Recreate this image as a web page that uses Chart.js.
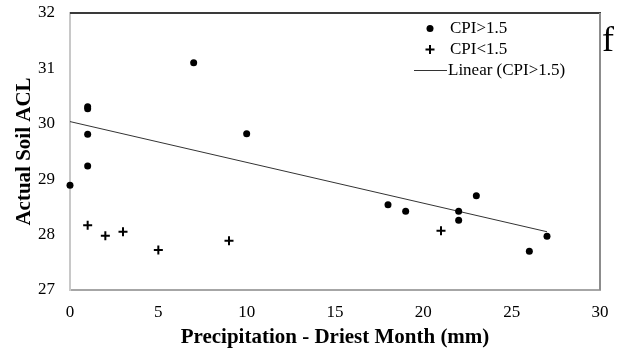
<!DOCTYPE html>
<html>
<head>
<meta charset="utf-8">
<script src="https://cdn.jsdelivr.net/npm/chart.js@4.4.0/dist/chart.umd.min.js"></script>
<style>
  html, body { margin: 0; padding: 0; background: #fff; }
</style>
</head>
<body>
<canvas id="grafico" width="626" height="353"></canvas>
<script>
// CPI > 1.5 (puntos)
const precipAlto = [0, 1, 1, 1, 1, 7, 10, 18, 19, 22, 22, 23, 26, 27];
const aclAlto = [28.89, 30.31, 30.27, 29.81, 29.24, 31.10, 29.82, 28.54, 28.42, 28.42, 28.26, 28.70, 27.70, 27.97];
// CPI < 1.5 (cruces)
const precipBajo = [1, 2, 3, 5, 9, 21];
const aclBajo = [28.17, 27.98, 28.05, 27.72, 27.89, 28.07];

const ticksX = [0, 5, 10, 15, 20, 25, 30];
const ticksY = [27, 28, 29, 30, 31, 32];
const etiquetas = ['CPI>1.5', 'CPI<1.5', 'Linear (CPI>1.5)'];

const fuente = "'Liberation Serif', 'Times New Roman', serif";

// Regresion lineal de la serie CPI>1.5
function tendencia(xs, ys) {
    const n = xs.length;
    const mx = xs.reduce((a, b) => a + b, 0) / n;
    const my = ys.reduce((a, b) => a + b, 0) / n;
    let sxy = 0, sxx = 0;
    xs.forEach((x, i) => {
        sxy += (x - mx) * (ys[i] - my);
        sxx += (x - mx) * (x - mx);
    });
    const m = sxy / sxx;
    const b = my - m * mx;
    const x0 = Math.min(...xs), x1 = Math.max(...xs);
    return [{ x: x0, y: m * x0 + b }, { x: x1, y: m * x1 + b }];
}

const puntos = (xs, ys) => xs.map((x, i) => ({ x: x, y: ys[i] }));

// Borde superior/derecho, leyenda y letra del panel
const extras = {
    id: 'extras',
    afterDraw(chart) {
        const ctx = chart.ctx;
        const a = chart.chartArea;
        ctx.save();
        ctx.lineWidth = 2;
        ctx.strokeStyle = '#3a3a3a';
        ctx.beginPath();
        ctx.moveTo(a.left, a.top);
        ctx.lineTo(a.right + 1, a.top);
        ctx.stroke();
        ctx.strokeStyle = '#8c8c8c';
        ctx.beginPath();
        ctx.moveTo(a.right, a.top);
        ctx.lineTo(a.right, a.bottom);
        ctx.stroke();

        // leyenda
        ctx.fillStyle = '#000';
        ctx.strokeStyle = '#000';
        ctx.font = '17px ' + fuente;
        ctx.textBaseline = 'middle';
        ctx.textAlign = 'left';
        const mx = 430;
        const filas = [28.5, 49.5, 70.5];
        ctx.beginPath();
        ctx.arc(mx, filas[0], 3.5, 0, Math.PI * 2);
        ctx.fill();
        ctx.fillText(etiquetas[0], 450, filas[0]);
        ctx.lineWidth = 2;
        ctx.beginPath();
        ctx.moveTo(mx - 4.5, filas[1]);
        ctx.lineTo(mx + 4.5, filas[1]);
        ctx.moveTo(mx, filas[1] - 4.5);
        ctx.lineTo(mx, filas[1] + 4.5);
        ctx.stroke();
        ctx.fillText(etiquetas[1], 450, filas[1]);
        ctx.lineWidth = 1;
        ctx.strokeStyle = '#333';
        ctx.beginPath();
        ctx.moveTo(414, filas[2]);
        ctx.lineTo(447, filas[2]);
        ctx.stroke();
        ctx.fillText(etiquetas[2], 448, filas[2]);

        ctx.font = '36px ' + fuente;
        ctx.textBaseline = 'alphabetic';
        ctx.fillText('f', 602, 51);
        ctx.restore();
    }
};

new Chart(document.getElementById('grafico'), {
    type: 'scatter',
    data: {
        datasets: [
            {
                label: etiquetas[0],
                data: puntos(precipAlto, aclAlto),
                pointStyle: 'circle',
                pointRadius: 3.5,
                backgroundColor: '#000',
                borderColor: '#000',
                borderWidth: 0,
                clip: false
            },
            {
                label: etiquetas[1],
                data: puntos(precipBajo, aclBajo),
                pointStyle: 'cross',
                pointRadius: 4.5,
                borderColor: '#000',
                borderWidth: 2,
                clip: false
            },
            {
                label: etiquetas[2],
                data: tendencia(precipAlto, aclAlto),
                showLine: true,
                pointRadius: 0,
                borderColor: '#333',
                borderWidth: 1
            }
        ]
    },
    options: {
        responsive: false,
        animation: false,
        layout: { padding: { top: 13, right: 26, left: 0, bottom: 0 } },
        plugins: {
            legend: { display: false },
            tooltip: { enabled: false }
        },
        scales: {
            x: {
                type: 'linear',
                min: 0,
                max: 30,
                afterBuildTicks: s => { s.ticks = ticksX.map(v => ({ value: v })); },
                afterFit: s => {
                    s.height = 63;
                    s.paddingLeft = 0;
                    s.paddingRight = 0;
                },
                grid: { display: false, drawTicks: false },
                border: { display: true, color: '#a6a6a6', width: 2 },
                ticks: { color: '#000', padding: 12, font: { family: fuente, size: 17 } },
                title: {
                    display: true,
                    text: 'Precipitation - Driest Month (mm)',
                    color: '#000',
                    padding: { top: 0, bottom: 3 },
                    font: { family: fuente, size: 21, weight: 'bold' }
                }
            },
            y: {
                type: 'linear',
                min: 27,
                max: 32,
                afterBuildTicks: s => { s.ticks = ticksY.map(v => ({ value: v })); },
                afterFit: s => {
                    s.width = 70;
                    s.paddingTop = 0;
                    s.paddingBottom = 0;
                },
                grid: { display: false, drawTicks: false },
                border: { display: true, color: '#c8c8c8', width: 2 },
                ticks: { color: '#000', padding: 15, font: { family: fuente, size: 17 } },
                title: {
                    display: true,
                    text: 'Actual Soil ACL',
                    color: '#000',
                    padding: { top: 12, bottom: 0 },
                    font: { family: fuente, size: 21, weight: 'bold' }
                }
            }
        }
    },
    plugins: [extras]
});
</script>
</body>
</html>
